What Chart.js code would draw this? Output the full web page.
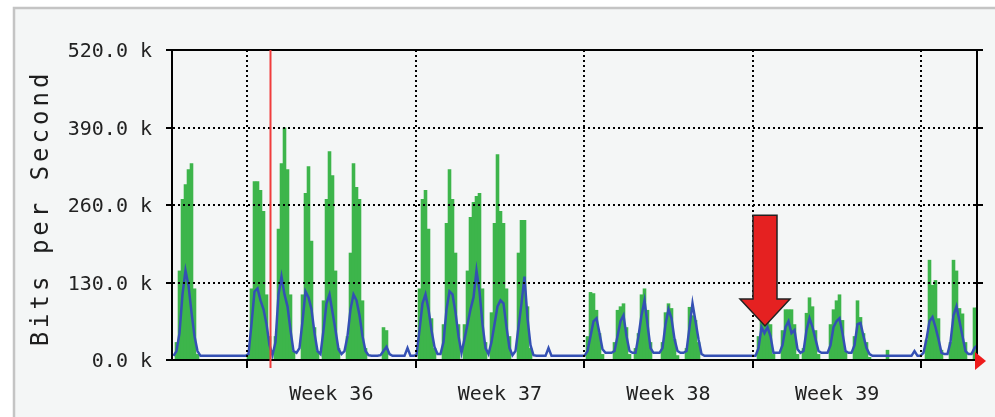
<!DOCTYPE html>
<html><head><meta charset="utf-8">
<script src="https://cdn.jsdelivr.net/npm/chart.js@4.4.1/dist/chart.umd.min.js"></script>
<style>html,body{margin:0;padding:0;background:#fff;overflow:hidden}canvas{display:block}</style>
</head><body>
<canvas id="c" width="995" height="417"></canvas>
<script>
// ---- data (hours from left edge of graph, values in kbit/s) ----
const STEP_HOURS = 3;
const X_MAX_HOURS = 805;
const WEEK_TICKS = [75, 243.6, 412.2, 580.8, 749.4];
const WEEK_LABELS = ['Week 36', 'Week 37', 'Week 38', 'Week 39'];
const Y_TICKS = [0, 130, 260, 390, 520];
const RED_MARK_HOUR = 98.5;
const AXIS_TITLE = 'Bits per Second';
const ARROW = { hour: 593, from: 243, to: 57 };

const IN_BITS = [
  0,30,150,270,295,320,330,120,10,0,
  0,0,0,0,0,0,0,0,0,0,
  0,0,0,0,0,10,120,300,300,285,
  250,110,40,0,40,220,330,390,320,110,
  15,0,0,110,280,325,200,55,15,0,
  100,270,350,310,150,20,0,0,40,180,
  330,290,270,100,20,0,0,0,0,0,
  55,50,0,0,0,0,0,0,0,0,
  0,0,120,270,285,220,70,20,0,0,
  60,230,320,270,180,60,0,60,150,240,
  265,275,280,120,30,0,80,230,345,250,
  230,120,40,0,0,180,235,235,90,20,
  0,0,0,0,0,0,0,0,0,0,
  0,0,0,0,0,0,0,0,40,114,
  112,84,45,10,0,0,0,30,84,90,
  95,55,10,0,20,45,110,120,84,30,
  0,0,0,30,80,95,87,35,8,0,
  0,20,89,75,67,30,0,0,0,0,
  0,0,0,0,0,0,0,0,0,0,
  0,0,0,0,0,40,75,72,75,60,
  10,0,0,50,85,85,85,60,10,0,
  20,79,105,90,50,10,0,0,0,60,
  85,100,110,67,15,0,0,40,100,72,
  45,30,5,0,0,0,0,0,17,0,
  0,0,0,0,0,0,0,0,0,0,
  0,34,168,126,134,70,17,0,0,30,
  168,150,87,78,30,0,0,88,88
];

const OUT_BITS = [
  7,15,45,110,150,125,80,40,15,7,
  7,7,7,7,7,7,7,7,7,7,
  7,7,7,7,7,10,60,115,120,100,
  85,60,25,8,30,110,140,110,90,50,
  15,12,20,65,115,105,85,45,15,10,
  50,95,110,80,50,18,10,15,40,85,
  110,100,75,40,15,8,7,7,7,8,
  15,22,10,7,7,7,7,7,20,7,
  7,8,50,95,110,85,50,22,10,10,
  30,85,115,110,80,40,12,35,60,85,
  105,150,115,60,20,10,30,60,90,100,
  95,55,20,8,15,55,95,140,70,25,
  8,7,7,7,7,20,7,7,7,7,
  7,7,7,7,7,7,7,7,15,40,
  65,70,45,18,12,12,12,15,40,65,
  75,40,15,12,12,40,75,100,60,20,
  12,12,12,20,60,85,70,35,15,12,
  12,15,55,95,65,35,10,7,7,7,
  7,7,7,7,7,7,7,7,7,7,
  7,7,7,7,7,20,55,45,55,40,
  12,12,12,25,55,65,45,50,18,12,
  15,50,70,55,35,15,12,12,12,25,
  55,65,70,45,15,12,12,25,60,62,
  40,20,10,7,7,7,7,7,7,7,
  7,7,7,7,7,7,7,15,7,7,
  12,35,65,72,55,35,12,10,10,30,
  75,90,65,40,15,10,10,20,25
];

const toPoints = vals => vals.map((v, i) => ({ x: i * STEP_HOURS + STEP_HOURS / 2, y: v }));

const MONO = '"DejaVu Sans Mono", "Liberation Mono", monospace';

const bgPlugin = {
  id: 'mrtgBackground',
  beforeDraw(chart) {
    const { ctx, width, height } = chart;
    ctx.save();
    ctx.fillStyle = '#ffffff';
    ctx.fillRect(0, 0, width, height);
    ctx.fillStyle = '#f4f6f6';
    ctx.fillRect(13, 7, width - 13, height - 7);
    ctx.strokeStyle = '#c4c4c4';
    ctx.lineWidth = 2.5;
    ctx.beginPath();
    ctx.moveTo(14, height); ctx.lineTo(14, 8); ctx.lineTo(width, 8);
    ctx.stroke();
    ctx.restore();
  }
};

const framePlugin = {
  id: 'mrtgFrame',
  afterDraw(chart) {
    const { ctx, chartArea: a, scales: { x, y } } = chart;
    ctx.save();
    ctx.strokeStyle = '#000';
    ctx.lineWidth = 2;
    ctx.beginPath();
    ctx.moveTo(a.left, a.top); ctx.lineTo(a.right, a.top); ctx.lineTo(a.right, a.bottom);
    ctx.stroke();
    Y_TICKS.forEach(v => {
      const py = Math.round(y.getPixelForValue(v));
      ctx.beginPath(); ctx.moveTo(a.right - 3, py); ctx.lineTo(a.right + 6, py); ctx.stroke();
    });
    const rx = x.getPixelForValue(RED_MARK_HOUR);
    ctx.strokeStyle = '#f03c3c';
    ctx.lineWidth = 2;
    ctx.beginPath(); ctx.moveTo(rx, a.top); ctx.lineTo(rx, a.bottom + 8); ctx.stroke();
    ctx.fillStyle = '#ee1c1c';
    ctx.beginPath();
    ctx.moveTo(a.right - 2, a.bottom - 8); ctx.lineTo(a.right + 9, a.bottom + 1); ctx.lineTo(a.right - 2, a.bottom + 10);
    ctx.closePath(); ctx.fill();
    const ax = x.getPixelForValue(ARROW.hour);
    const yTop = y.getPixelForValue(ARROW.from);
    const yTip = y.getPixelForValue(ARROW.to);
    const sh = 12, hh = 25, hl = 27;
    ctx.beginPath();
    ctx.moveTo(ax - sh, yTop); ctx.lineTo(ax + sh, yTop); ctx.lineTo(ax + sh, yTip - hl);
    ctx.lineTo(ax + hh, yTip - hl); ctx.lineTo(ax, yTip); ctx.lineTo(ax - hh, yTip - hl);
    ctx.lineTo(ax - sh, yTip - hl); ctx.closePath();
    ctx.fillStyle = '#e52121'; ctx.fill();
    ctx.lineWidth = 1.5; ctx.strokeStyle = '#222'; ctx.stroke();
    ctx.translate(42, (a.top + a.bottom) / 2 + 3);
    ctx.rotate(-Math.PI / 2);
    ctx.font = '24px ' + MONO;
    try { ctx.letterSpacing = '4px'; } catch (e) {}
    ctx.textAlign = 'center';
    ctx.textBaseline = 'middle';
    ctx.fillStyle = '#1e1e1e';
    ctx.fillText(AXIS_TITLE, 0, 0);
    ctx.restore();
  }
};

new Chart(document.getElementById('c'), {
  type: 'line',
  data: {
    datasets: [
      { type: 'line', label: 'Outgoing', data: toPoints(OUT_BITS), borderColor: '#3450b4', borderWidth: 2.5,
        tension: 0, pointRadius: 0, fill: false, order: 1 },
      { type: 'bar', label: 'Incoming', data: toPoints(IN_BITS), backgroundColor: '#3db54b',
        borderWidth: 0, barThickness: 3.6, inflateAmount: 0, order: 2 }
    ]
  },
  options: {
    responsive: false, animation: false, devicePixelRatio: 1,
    layout: { padding: { top: 50, right: 18, left: 0, bottom: 0 } },
    plugins: { legend: { display: false }, tooltip: { enabled: false } },
    scales: {
      x: {
        type: 'linear', min: 0, max: X_MAX_HOURS, bounds: 'data', weight: 0, offset: false,
        afterBuildTicks: s => { s.ticks = WEEK_TICKS.map(v => ({ value: v })); },
        afterFit: s => { s.height = 10; },
        grid: { color: '#000', lineWidth: 2, z: 1, tickLength: 8, tickColor: '#000', tickWidth: 2, tickBorderDash: [], offset: false },
        border: { display: true, color: '#000', width: 2, dash: [2, 3], z: 2 },
        ticks: { display: false }
      },
      weeks: {
        type: 'linear', axis: 'x', position: 'bottom', min: 0, max: X_MAX_HOURS, bounds: 'data', weight: 1, offset: false,
        afterBuildTicks: s => { s.ticks = WEEK_LABELS.map((l, i) => ({ value: (WEEK_TICKS[i] + WEEK_TICKS[i + 1]) / 2 })); },
        afterFit: s => { s.height = 47; },
        grid: { display: false, drawTicks: false },
        border: { display: false },
        ticks: { callback: (v, i) => WEEK_LABELS[i], autoSkip: false, maxRotation: 0, padding: 13,
                 font: { family: MONO, size: 20 }, color: '#222' }
      },
      y: {
        min: 0, max: 520, bounds: 'data',
        afterBuildTicks: s => { s.ticks = Y_TICKS.map(v => ({ value: v })); },
        afterFit: s => { s.width = 172; },
        grid: {
          color: c => (c.tick && (c.tick.value === 0 || c.tick.value === 520)) ? 'rgba(0,0,0,0)' : '#000',
          lineWidth: 2, z: 1, tickLength: 6, tickColor: '#000', tickWidth: 2, tickBorderDash: []
        },
        border: { color: '#000', width: 2, dash: [2, 3], z: 2 },
        ticks: { callback: v => v.toFixed(1) + ' k', padding: 14, labelOffset: 2,
                 font: { family: MONO, size: 20 }, color: '#222' }
      }
    }
  },
  plugins: [bgPlugin, framePlugin]
});
</script>
</body></html>
